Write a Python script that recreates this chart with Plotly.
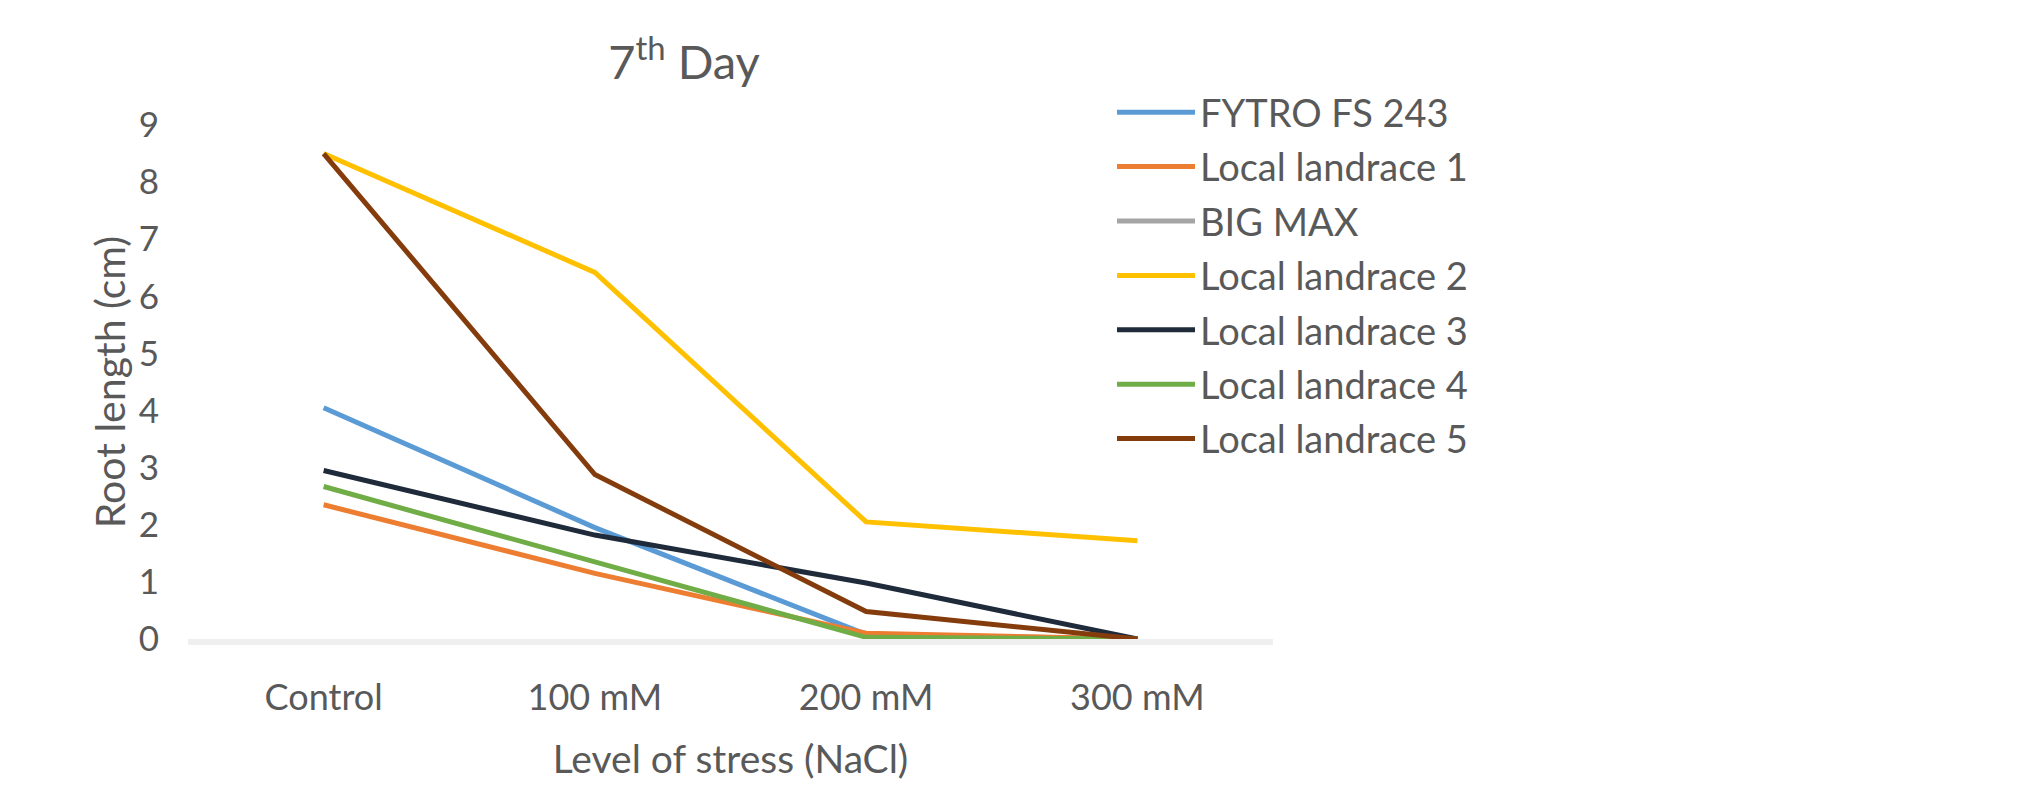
import plotly.graph_objects as go

categories = ["Control", "100 mM", "200 mM", "300 mM"]
fytro_fs_243 = [4.05, 1.95, 0.08, 0.0]
local_landrace_1 = [2.35, 1.15, 0.1, 0.0]
big_max = [None, None, None, None]
local_landrace_2 = [8.5, 6.42, 2.05, 1.72]
local_landrace_3 = [2.95, 1.82, 0.98, 0.0]
local_landrace_4 = [2.67, 1.35, 0.03, 0.0]
local_landrace_5 = [8.5, 2.88, 0.48, 0.0]

series = [
    ("FYTRO FS 243", fytro_fs_243, "#5B9BD5"),
    ("Local landrace 1", local_landrace_1, "#ED7D31"),
    ("BIG MAX", big_max, "#A5A5A5"),
    ("Local landrace 2", local_landrace_2, "#FFC000"),
    ("Local landrace 3", local_landrace_3, "#1F2A3A"),
    ("Local landrace 4", local_landrace_4, "#70AD47"),
    ("Local landrace 5", local_landrace_5, "#843C0C"),
]

FONT = "Lato, 'Open Sans', sans-serif"
TXT = "#595959"

fig = go.Figure()
for i, (name, vals, col) in enumerate(series):
    fig.add_trace(go.Scatter(
        x=categories, y=vals, name=name, mode="lines",
        line=dict(color=col, width=5),
        legendgroup=f"g{i}",
    ))

# page has an 8px body margin; figure coordinates = page - 8
W, H = 2008, 774
L, R, T, B = 180, 743, 117, 143
PW = W - L - R
PH = H - T - B

fig.update_layout(
    width=W, height=H,
    margin=dict(l=L, r=R, t=T, b=B, autoexpand=False),
    paper_bgcolor="white", plot_bgcolor="white",
    font=dict(family=FONT, color=TXT, size=36),
    title=dict(text="7<sup>th</sup> Day", x=(676 - L) / PW, xref="paper",
               xanchor="center", y=1 - 55 / H, yanchor="middle",
               font=dict(family=FONT, size=47, color=TXT)),
    showlegend=True,
    legend=dict(x=(1104 - L) / PW, xanchor="left", y=1 + (T - 73) / PH, yanchor="top",
                font=dict(family=FONT, size=38, color=TXT),
                tracegroupgap=2, itemwidth=78, bgcolor="rgba(0,0,0,0)",
                maxheight=700),
    xaxis=dict(type="category", range=[-0.5, 3.5], showgrid=False,
               showline=True, linecolor="#EFEFEF", linewidth=6,
               ticks="", ticklabelstandoff=22,
               tickfont=dict(family=FONT, size=36, color=TXT),
               title=dict(text="Level of stress (NaCl)", standoff=30,
                          font=dict(family=FONT, size=39, color=TXT)),
               zeroline=False),
    yaxis=dict(range=[0, 9], dtick=1, showgrid=False, showline=False, zeroline=False,
               ticks="", ticklabelstandoff=28,
               tickfont=dict(family=FONT, size=35, color=TXT),
               title=dict(text="Root length (cm)", standoff=0,
                          font=dict(family=FONT, size=41, color=TXT))),
)

fig.write_html("out.html")
